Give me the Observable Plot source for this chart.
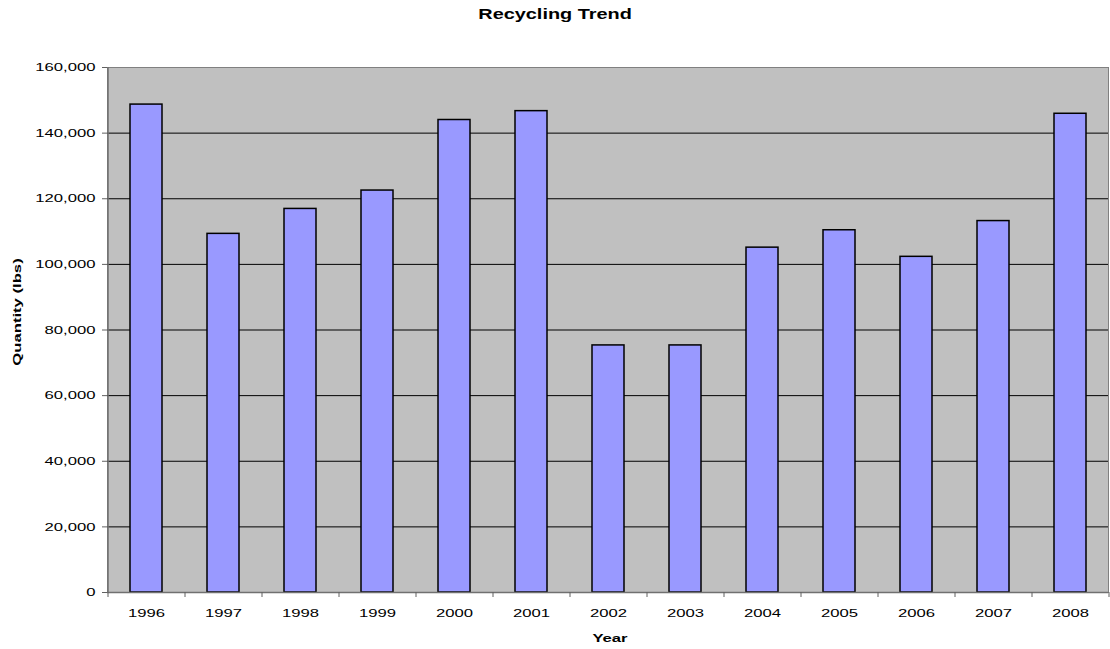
<!DOCTYPE html>
<html>
<head>
<meta charset="utf-8">
<script src="https://cdn.jsdelivr.net/npm/d3@7"></script>
<script src="https://cdn.jsdelivr.net/npm/@observablehq/plot@0.6"></script>
<style>
  html, body { margin: 0; padding: 0; background: #fff; }
  #title { height: 28px; text-align: center; font: bold 14px "Liberation Sans", Arial, sans-serif; line-height: 28px; color: #000; }
  #title span { display: inline-block; transform: scaleX(1.42); }
</style>
</head>
<body>
<div id="title"><span>Recycling Trend</span></div>
<div id="chart"></div>
<script>
const years = ["1996","1997","1998","1999","2000","2001","2002","2003","2004","2005","2006","2007","2008"];
const quantities = [148700, 109300, 116900, 122500, 144000, 146700, 75300, 75300, 105100, 110400, 102300, 113200, 145900];
const yTicks = [0, 20000, 40000, 60000, 80000, 100000, 120000, 140000, 160000];
const xTitle = "Year";
const yTitle = "Quantity (lbs)";

const data = years.map((y, i) => ({year: y, qty: quantities[i]}));

const W = 1110, H = 621, mL = 107, mR = 2, mT = 39, mB = 57;
const step = (W - mL - mR) / years.length;
const stretch = 1.45;

const chart = Plot.plot({
  width: W,
  height: H,
  marginLeft: mL,
  marginRight: mR,
  marginTop: mT,
  marginBottom: mB,
  style: {fontFamily: '"Liberation Sans", Arial, sans-serif', fontSize: "11.5px", color: "#000", background: "#fff"},
  x: {domain: years, paddingInner: 0.59, paddingOuter: 0.295, align: 0.5},
  y: {domain: [0, 160000]},
  marks: [
    Plot.frame({fill: "#c0c0c0", stroke: "#808080"}),
    Plot.gridY(yTicks.slice(1, -1), {stroke: "#000", strokeOpacity: 1, strokeWidth: 1}),
    Plot.barY(data, {x: "year", y: "qty", fill: "#9999ff", stroke: "#000", strokeWidth: 1.5}),
    Plot.ruleY([0], {stroke: "#707070", strokeWidth: 1.5}),
    Plot.ruleX([years[0]], {dx: -step / 2, stroke: "#707070", strokeWidth: 1.5}),
    Plot.ruleX(years, {dx: step / 2, y1: 0, y2: 0, insetBottom: -5, stroke: "#606060"}),
    Plot.ruleX([years[0]], {dx: -step / 2, y1: 0, y2: 0, insetBottom: -5, stroke: "#606060"}),
    Plot.axisY(yTicks, {tickFormat: d3.format(","), tickSize: 5, tickPadding: 7, stroke: "#606060", label: null}),
    Plot.axisX({tickSize: 0, tickPadding: 16, label: null}),
    Plot.text([yTitle], {frameAnchor: "left", textAnchor: "middle", rotate: -90, dx: -90, dy: -18, fontWeight: "bold", fontSize: 11.5}),
    Plot.text([xTitle], {frameAnchor: "bottom", dx: 2, dy: 49, fontWeight: "bold", fontSize: 11.5})
  ]
});

// Reference text is horizontally stretched: scale each label along its own direction.
chart.querySelectorAll("text").forEach(t => {
  const tr = t.getAttribute("transform");
  if (tr) t.setAttribute("transform", tr + ` scale(${stretch},1)`);
});

document.getElementById("chart").appendChild(chart);
</script>
</body>
</html>
